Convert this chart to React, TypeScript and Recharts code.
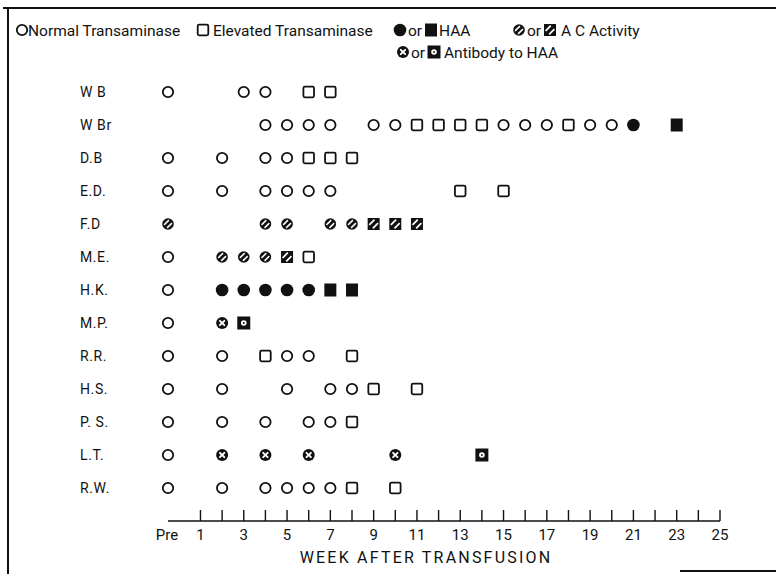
import React from 'react'
import { ScatterChart, Scatter, XAxis, YAxis } from 'recharts'

// x position used for the pre-transfusion sample
const PRE = -0.5

const patients = ['W B', 'W Br', 'D.B', 'E.D.', 'F.D', 'M.E.', 'H.K.', 'M.P.', 'R.R.', 'H.S.', 'P. S.', 'L.T.', 'R.W.']

// [week, kind]  N normal, E elevated, HC/HS HAA, AC/AS AC activity, BC/BS antibody to HAA
type Obs = [number | 'Pre', string]
const wb: Obs[] = [['Pre', 'N'], [3, 'N'], [4, 'N'], [6, 'E'], [7, 'E']]
const wbr: Obs[] = [[4, 'N'], [5, 'N'], [6, 'N'], [7, 'N'], [9, 'N'], [10, 'N'], [11, 'E'], [12, 'E'], [13, 'E'], [14, 'E'], [15, 'N'], [16, 'N'], [17, 'N'], [18, 'E'], [19, 'N'], [20, 'N'], [21, 'HC'], [23, 'HS']]
const db: Obs[] = [['Pre', 'N'], [2, 'N'], [4, 'N'], [5, 'N'], [6, 'E'], [7, 'E'], [8, 'E']]
const ed: Obs[] = [['Pre', 'N'], [2, 'N'], [4, 'N'], [5, 'N'], [6, 'N'], [7, 'N'], [13, 'E'], [15, 'E']]
const fd: Obs[] = [['Pre', 'AC'], [4, 'AC'], [5, 'AC'], [7, 'AC'], [8, 'AC'], [9, 'AS'], [10, 'AS'], [11, 'AS']]
const me: Obs[] = [['Pre', 'N'], [2, 'AC'], [3, 'AC'], [4, 'AC'], [5, 'AS'], [6, 'E']]
const hk: Obs[] = [['Pre', 'N'], [2, 'HC'], [3, 'HC'], [4, 'HC'], [5, 'HC'], [6, 'HC'], [7, 'HS'], [8, 'HS']]
const mp: Obs[] = [['Pre', 'N'], [2, 'BC'], [3, 'BS']]
const rr: Obs[] = [['Pre', 'N'], [2, 'N'], [4, 'E'], [5, 'N'], [6, 'N'], [8, 'E']]
const hs: Obs[] = [['Pre', 'N'], [2, 'N'], [5, 'N'], [7, 'N'], [8, 'N'], [9, 'E'], [11, 'E']]
const ps: Obs[] = [['Pre', 'N'], [2, 'N'], [4, 'N'], [6, 'N'], [7, 'N'], [8, 'E']]
const lt: Obs[] = [['Pre', 'N'], [2, 'BC'], [4, 'BC'], [6, 'BC'], [10, 'BC'], [14, 'BS']]
const rw: Obs[] = [['Pre', 'N'], [2, 'N'], [4, 'N'], [5, 'N'], [6, 'N'], [7, 'N'], [8, 'E'], [10, 'E']]

const tickWeeks = [1, 2, 3, 4, 5, 6, 7, 8, 9, 10, 11, 12, 13, 14, 15, 16, 17, 18, 19, 20, 21, 22, 23, 24, 25]
const labelWeeks = [1, 3, 5, 7, 9, 11, 13, 15, 17, 19, 21, 23, 25]

const rows = [wb, wbr, db, ed, fd, me, hk, mp, rr, hs, ps, lt, rw]
const points = rows.flatMap((obs, i) =>
  obs.map(([w, kind]) => ({ week: w === 'Pre' ? PRE : w, row: i, kind }))
)

const INK = '#111'
const FONT = 'Roboto, "Liberation Sans", sans-serif'

function Mark({ cx, cy, kind }: { cx: number; cy: number; kind: string }) {
  switch (kind) {
    case 'N':
      return <circle cx={cx} cy={cy} r={5.2} fill="#fff" stroke={INK} strokeWidth={1.8} />
    case 'E':
      return <rect x={cx - 5.3} y={cy - 5.3} width={10.6} height={10.6} rx={1.5} fill="#fff" stroke={INK} strokeWidth={1.8} />
    case 'HC':
      return <circle cx={cx} cy={cy} r={6.3} fill={INK} />
    case 'HS':
      return <rect x={cx - 6} y={cy - 6.5} width={12} height={13} fill={INK} />
    case 'AC':
      return (
        <g>
          <circle cx={cx} cy={cy} r={5.8} fill={INK} />
          <line x1={cx - 3.9} y1={cy + 0.9} x2={cx + 0.9} y2={cy - 3.9} stroke="#fff" strokeWidth={1.5} />
          <line x1={cx - 0.9} y1={cy + 3.9} x2={cx + 3.9} y2={cy - 0.9} stroke="#fff" strokeWidth={1.5} />
        </g>
      )
    case 'AS':
      return (
        <g>
          <rect x={cx - 6} y={cy - 6} width={12} height={12} fill={INK} />
          <line x1={cx - 4.4} y1={cy + 0.8} x2={cx + 0.8} y2={cy - 4.4} stroke="#fff" strokeWidth={1.7} />
          <line x1={cx - 0.8} y1={cy + 4.4} x2={cx + 4.4} y2={cy - 0.8} stroke="#fff" strokeWidth={1.7} />
        </g>
      )
    case 'BC':
      return (
        <g>
          <circle cx={cx} cy={cy} r={6} fill={INK} />
          <line x1={cx - 2.2} y1={cy - 2.2} x2={cx + 2.2} y2={cy + 2.2} stroke="#fff" strokeWidth={1.9} strokeLinecap="round" />
          <line x1={cx - 2.2} y1={cy + 2.2} x2={cx + 2.2} y2={cy - 2.2} stroke="#fff" strokeWidth={1.9} strokeLinecap="round" />
        </g>
      )
    case 'BS':
      return (
        <g>
          <rect x={cx - 6.5} y={cy - 6.5} width={13} height={13} fill={INK} />
          <circle cx={cx} cy={cy} r={2.8} fill="#fff" />
          <circle cx={cx} cy={cy} r={0.9} fill={INK} />
        </g>
      )
    default:
      return null
  }
}

const WeekTick = ({ x, y, payload }: any) => {
  const v = payload.value
  const isPre = v === PRE
  const label = isPre ? 'Pre' : labelWeeks.includes(v) ? String(v) : ''
  return (
    <g>
      {!isPre && <line x1={x} x2={x} y1={y} y2={y - 11} stroke={INK} strokeWidth={1.4} />}
      {label && (
        <text x={isPre ? x - 1 : x} y={y + 19} textAnchor="middle" fontSize={15} fontFamily={FONT} fill={INK}>
          {label}
        </text>
      )}
    </g>
  )
}

const PatientTick = ({ y, payload }: any) => (
  <text x={80} y={y} dy={5} textAnchor="start" fontSize={14} fontFamily={FONT} fill={INK} letterSpacing={0.6}>
    {patients[payload.value]}
  </text>
)

function LegendRow() {
  const t = { fontSize: 15.5, fontFamily: FONT, fill: INK }
  return (
    <svg width={776} height={70} style={{ position: 'absolute', left: 0, top: 0 }}>
      <Mark cx={22} cy={30} kind="N" />
      <text x={28} y={35.5} {...t}>Normal Transaminase</text>
      <Mark cx={203} cy={30} kind="E" />
      <text x={213} y={35.5} {...t}>Elevated Transaminase</text>
      <Mark cx={400} cy={30} kind="HC" />
      <text x={408} y={35.5} {...t}>or</text>
      <Mark cx={431} cy={30} kind="HS" />
      <text x={439} y={35.5} {...t}>HAA</text>
      <Mark cx={519} cy={30} kind="AC" />
      <text x={527} y={35.5} {...t}>or</text>
      <Mark cx={550} cy={30} kind="AS" />
      <text x={561} y={35.5} {...t}>A C Activity</text>
      <Mark cx={403} cy={52} kind="BC" />
      <text x={411} y={57.5} {...t}>or</text>
      <Mark cx={434} cy={52} kind="BS" />
      <text x={444} y={57.5} {...t}>Antibody to HAA</text>
    </svg>
  )
}

export default function App() {
  return (
    <div style={{ position: 'absolute', left: 0, top: 0, width: 776, height: 574, background: '#fff' }}>
      <div style={{ position: 'absolute', left: 3, top: 7, width: 773, height: 2, background: INK }} />
      <div style={{ position: 'absolute', left: 7, top: 7, width: 2, height: 567, background: INK }} />
      <div style={{ position: 'absolute', left: 680, top: 570, width: 96, height: 1.5, background: INK }} />
      <LegendRow />
      <div style={{ position: 'absolute', left: 0, top: 0 }}>
        <ScatterChart width={776} height={574} margin={{ top: 59, right: 56, bottom: 0, left: 0 }}>
          <XAxis
            type="number"
            dataKey="week"
            domain={[PRE, 25]}
            ticks={[PRE, ...tickWeeks]}
            interval={0}
            tickSize={0}
            tickMargin={0}
            tickLine={false}
            axisLine={{ stroke: INK, strokeWidth: 1.5 }}
            height={53}
            tick={<WeekTick />}
            label={{
              content: () => (
                <text x={426} y={563} textAnchor="middle" fontSize={16} fontFamily={FONT} fill={INK} letterSpacing={2.2}>
                  WEEK AFTER TRANSFUSION
                </text>
              ),
            }}
          />
          <YAxis
            type="number"
            dataKey="row"
            domain={[-1, 13]}
            reversed
            ticks={patients.map((_, i) => i)}
            interval={0}
            width={168}
            axisLine={false}
            tickLine={false}
            tick={<PatientTick />}
          />
          <Scatter
            data={points}
            isAnimationActive={false}
            shape={(p: any) => <Mark cx={p.cx} cy={p.cy} kind={p.payload.kind} />}
          />
        </ScatterChart>
      </div>
    </div>
  )
}
